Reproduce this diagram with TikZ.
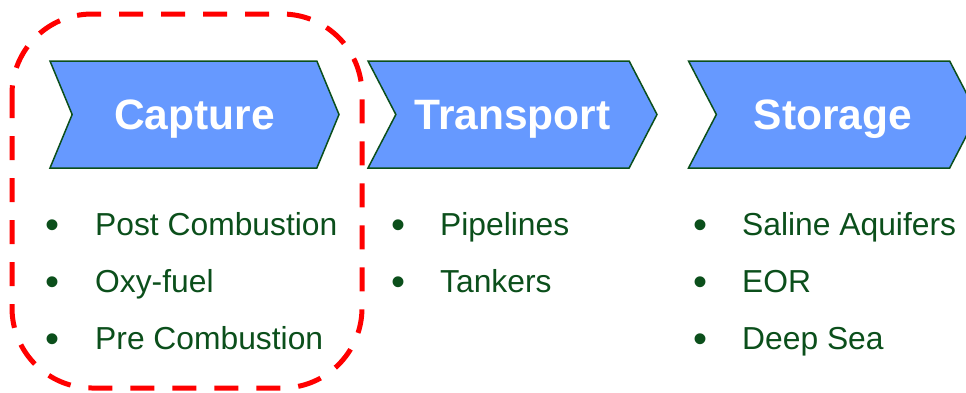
\documentclass[tikz,border=0pt]{standalone}
\usepackage{fontspec}
\setmainfont{Liberation Sans}
\usetikzlibrary{shapes.symbols, positioning}
\definecolor{cblue}{HTML}{6699FF}
\definecolor{cgreen}{HTML}{0B4F1B}
\definecolor{cred}{HTML}{FF0000}
\tikzset{
  every picture/.style={x=1pt, y=-1pt},
  stage/.style={signal, signal from=west, signal to=east, signal pointer angle=#1, draw=cgreen, fill=cblue, line width=1.5pt, minimum width=289pt, minimum height=107pt, inner sep=0pt, text=white, font=\fontsize{42.5}{50}\selectfont\bfseries, text height=30pt, text depth=0pt},
  stage/.default=125,
  item/.style={anchor=base west, inner sep=0pt, text=cgreen, font=\fontsize{31.8}{38}\selectfont},
  itemdot/.style={anchor=base, inner sep=0pt, text=cgreen, font=\fontsize{40}{48}\selectfont},
  focus/.style={draw=cred, line width=5pt, dash pattern=on 24pt off 18pt, rounded corners=80pt},
}
\begin{document}
\begin{tikzpicture}
  \useasboundingbox (0,0) rectangle (966,392);
  % stages
  \node[stage=135] (capture) at (194.5,114.5) {Capture};
  \node[stage] (transport) at (512.5,114.5) {Transport};
  \node[stage] (storage) at (833,114.5) {Storage};
  % lists under each stage
  \foreach \c/\x/\items in {cap/53/{Post Combustion,Oxy-fuel,Pre Combustion}, tra/398/{Pipelines,Tankers}, sto/700/{Saline Aquifers,EOR,Deep Sea}}{
    \foreach \lab [count=\i] in \items {
      \node[itemdot] (\c dot\i) at (\x, {181+57*\i}) {\textbullet};
      \node[item] (\c\i) at ({\x+42}, {178+57*\i}) {\lab};
    }
  }
  % capture highlighted
  \draw[focus] (12,14) rectangle (362,388);
\end{tikzpicture}
\end{document}
